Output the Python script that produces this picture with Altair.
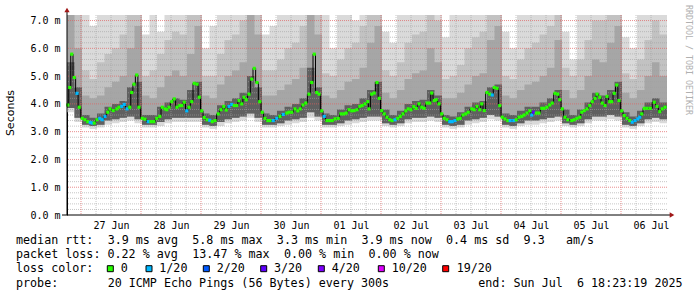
import re
import altair as alt
import pandas as pd

# ---------------- data ----------------
# median rtt (ms), time in hours since 26 Jun 00:00
med_hours = [
    18.7, 19.5, 20.3, 21.3, 22.4, 23.3, 24.5, 25.6, 26.7, 27.7, 28.5, 29.3, 30.4, 31.5, 32.5, 33.6, 34.7, 35.6,
    36.9, 38.3, 39.2, 40.3, 41.3, 42.4, 43.5, 44.3, 45.2, 46.3, 47.2, 48.5, 49.6, 50.9, 52.0, 53.1, 54.3, 55.5,
    56.5, 57.6,
    58.3, 59.2, 60.3, 61.3, 62.4, 63.5, 64.3, 65.3, 66.3, 67.2, 68.3, 69.3, 70.4, 71.3, 72.3, 73.3, 74.4, 75.5,
    76.5, 77.6, 78.9, 80.0, 81.1, 82.1, 83.2, 84.3, 85.3, 86.3, 87.2, 88.3, 89.2, 90.1, 91.2, 92.3, 93.3, 94.4,
    95.5, 96.5, 97.6, 98.7,
    99.6, 100.9, 102.3, 103.6, 104.9, 106.3, 107.2, 108.3, 109.6, 110.7, 111.7, 112.8, 113.9, 115.2, 116.3,
    117.3, 118.3, 119.2, 120.3, 121.3, 122.4, 123.5, 124.5, 125.6, 126.9, 128.0, 129.1, 130.1, 131.2, 132.3,
    133.3, 134.4, 135.5, 136.5, 137.6, 138.7,
    139.2, 140.3, 141.3, 142.4, 143.3, 144.3, 145.3, 146.4, 147.5, 148.5, 149.6, 150.7, 151.7, 152.8, 153.9,
    154.9, 156.0, 157.1, 158.1, 159.2, 160.3, 161.3, 162.4, 163.5, 164.3, 165.3, 166.1, 167.2, 168.3, 169.3,
    170.4, 171.5, 172.5, 173.6, 174.7, 175.7, 176.8, 177.9, 178.9,
    180.3, 181.3, 182.4, 183.5, 184.3, 185.3, 186.4, 187.5, 188.5, 189.3, 190.4, 191.5, 192.5, 193.6, 194.7,
    195.7, 197.1, 198.1, 199.2, 200.3, 201.3, 202.4, 203.5, 204.3, 205.1, 206.1, 207.2, 208.3, 209.3, 210.4,
    211.5, 212.5, 213.6, 214.7, 215.5, 216.5, 217.6, 218.7,
    220.3, 221.3, 222.4, 223.5, 224.3, 225.3, 226.4, 227.5, 228.5, 229.6, 230.4, 231.5, 232.5, 233.6, 234.4,
    235.5, 236.3, 237.3, 238.3, 239.2, 240.3, 241.3, 242.4, 243.5, 244.5, 245.6, 246.7, 247.5, 248.3, 249.3,
    250.4, 251.7, 253.3, 254.4, 255.5, 256.5, 257.6,
]
med_ms = [
    3.96, 4.59, 5.79, 4.95, 4.38, 3.88, 3.48, 3.43, 3.36, 3.33, 3.31, 3.31, 3.43, 3.48, 3.43, 3.55, 3.70, 3.82,
    3.76, 3.82, 3.88, 3.91, 3.98, 3.82, 3.88, 4.41, 4.71, 5.04, 3.88, 3.48, 3.45, 3.36, 3.36, 3.36, 3.48, 3.55,
    3.88, 3.82,
    3.79, 3.88, 4.08, 4.18, 3.88, 3.94, 3.94, 4.06, 3.75, 3.88, 4.08, 4.74, 4.71, 4.24, 3.75, 3.51, 3.43, 3.41,
    3.36, 3.40, 3.64, 3.79, 3.91, 3.78, 3.91, 3.98, 3.94, 3.94, 4.12, 4.00, 4.24, 4.15, 4.35, 4.89, 5.28, 4.77,
    4.08, 3.70, 3.48, 3.40,
    3.40, 3.40, 3.48, 3.55, 3.62, 3.67, 3.70, 3.70, 3.82, 3.75, 3.82, 3.96, 4.03, 4.35, 4.77,
    5.79, 4.41, 4.35, 3.75, 3.55, 3.40, 3.40, 3.40, 3.46, 3.48, 3.64, 3.64, 3.67, 3.79, 3.75,
    3.76, 3.79, 3.91, 3.94, 4.00, 4.08,
    3.82, 4.35, 4.39, 4.77, 4.20, 3.76, 3.64, 3.52, 3.43, 3.40, 3.43, 3.48, 3.55, 3.64, 3.75,
    3.82, 3.79, 3.90, 3.84, 4.00, 3.88, 3.84, 4.03, 4.03, 4.39, 4.12, 4.15, 4.00, 3.64, 3.48,
    3.43, 3.36, 3.36, 3.40, 3.46, 3.48, 3.60, 3.64, 3.70,
    3.82, 3.79, 3.91, 3.79, 4.00, 3.76, 4.41, 4.35, 4.32, 4.59, 4.56, 3.94, 3.52, 3.46, 3.40,
    3.40, 3.40, 3.43, 3.52, 3.55, 3.60, 3.67, 3.75, 3.60, 3.70, 3.67, 3.67, 3.84, 3.84, 3.88,
    3.96, 4.03, 4.38, 4.35, 4.15, 3.82, 3.52, 3.43,
    3.40, 3.43, 3.48, 3.52, 3.70, 3.76, 3.82, 3.94, 4.08, 4.20, 4.35, 4.24, 4.03, 3.94, 4.27,
    4.08, 4.08, 4.38, 4.68, 4.12, 3.75, 3.58, 3.48, 3.40, 3.34, 3.40, 3.46, 3.52, 3.64, 3.84,
    3.84, 3.84, 4.06, 3.91, 3.72, 3.82, 3.88,
]
loss_1of20_hours = [22.4, 27.7, 28.5, 31.5, 32.5, 33.6, 40.3, 41.3, 42.4, 50.9, 66.3, 75.5, 83.2, 84.3,
                    100.9, 102.3, 104.9, 121.3, 149.6, 171.5, 172.5, 173.6, 188.5, 195.7, 197.1, 204.3,
                    244.5, 245.6, 246.7, 247.5]
loss_3of20_hours = [205.1]

loss_names = ["0", "1/20", "2/20", "3/20", "4/20", "10/20", "19/20"]
loss_colors = ["#26ff00", "#00b8ff", "#0059ff", "#5e00ff", "#7e00ff", "#dd00ff", "#ff0000"]

# smoke: 3-hour columns starting 26 Jun 18:24
smoke_start_h = 18.4
smoke_step_h = 3
smoke_bot = [3.7, 3.35, 3.15, 3.1, 3.15, 3.25, 3.3, 3.35, 3.4, 3.3, 3.15, 3.15, 3.2, 3.3, 3.35, 3.35, 3.35, 3.35,
             3.15, 3.1, 3.2, 3.3, 3.35, 3.4, 3.5, 3.35, 3.15, 3.15, 3.2, 3.25, 3.3, 3.35, 3.5, 3.4, 3.15, 3.15,
             3.2, 3.25, 3.3, 3.35, 3.4, 3.4, 3.2, 3.15, 3.2, 3.3, 3.35, 3.35, 3.4, 3.35, 3.15, 3.1, 3.15, 3.25,
             3.3, 3.35, 3.45, 3.4, 3.15, 3.1, 3.2, 3.25, 3.25, 3.3, 3.35, 3.4, 3.2, 3.15, 3.2, 3.3, 3.4, 3.4,
             3.45, 3.4, 3.15, 3.1, 3.2, 3.3, 3.35, 3.3]
smoke_bot2 = [3.85, 3.5, 3.25, 3.2, 3.25, 3.4, 3.45, 3.5, 3.55, 3.45, 3.25, 3.25, 3.35, 3.45, 3.5, 3.5, 3.5, 3.5,
              3.25, 3.2, 3.35, 3.45, 3.5, 3.55, 3.65, 3.5, 3.25, 3.25, 3.3, 3.4, 3.45, 3.5, 3.7, 3.55, 3.25, 3.25,
              3.3, 3.4, 3.45, 3.5, 3.55, 3.55, 3.3, 3.25, 3.3, 3.45, 3.5, 3.5, 3.55, 3.5, 3.25, 3.2, 3.25, 3.4,
              3.45, 3.5, 3.6, 3.55, 3.25, 3.2, 3.3, 3.4, 3.4, 3.45, 3.5, 3.55, 3.3, 3.25, 3.3, 3.45, 3.55, 3.55,
              3.6, 3.55, 3.25, 3.2, 3.3, 3.45, 3.5, 3.45]
smoke_core = [5.5, 4.6, 3.6, 3.5, 3.65, 3.9, 4.0, 4.1, 4.6, 4.8, 3.6, 3.6, 3.9, 4.05, 4.2, 4.15, 4.5, 4.8,
              3.65, 3.6, 3.95, 4.1, 4.2, 4.4, 5.0, 4.6, 3.65, 3.6, 3.75, 3.9, 4.0, 4.2, 5.3, 4.6, 3.65, 3.6,
              3.8, 3.95, 4.0, 4.2, 4.5, 4.8, 3.8, 3.6, 3.75, 4.0, 4.1, 4.15, 4.5, 4.3, 3.6, 3.55, 3.7, 3.9,
              4.05, 4.1, 4.6, 4.7, 3.65, 3.6, 3.75, 3.9, 3.9, 4.05, 4.2, 4.5, 3.8, 3.6, 3.8, 4.05, 4.4, 4.3,
              4.5, 4.8, 3.7, 3.55, 3.75, 4.05, 4.2, 4.05]
smoke_mid = [7.2, 6.0, 4.3, 4.2, 4.3, 4.6, 4.8, 5.0, 6.0, 6.8, 4.3, 4.2, 4.6, 5.0, 5.2, 5.0, 5.8, 6.8,
             4.3, 4.2, 4.7, 5.0, 5.2, 5.5, 7.2, 6.5, 4.3, 4.3, 4.5, 4.7, 4.9, 5.3, 7.2, 6.5, 4.3, 4.2,
             4.5, 4.8, 4.9, 5.3, 6.2, 6.8, 4.4, 4.2, 4.5, 4.9, 5.1, 5.2, 6.0, 5.5, 4.2, 4.2, 4.4, 4.7,
             5.0, 5.1, 6.3, 6.8, 4.3, 4.2, 4.5, 4.7, 4.8, 5.0, 5.3, 6.3, 4.5, 4.2, 4.5, 5.0, 5.6, 5.5,
             6.2, 6.8, 4.4, 4.2, 4.5, 5.0, 5.5, 5.0]
smoke_hi = [7.2, 7.2, 5.2, 4.9, 5.5, 5.8, 6.0, 6.5, 7.2, 7.2, 5.0, 5.2, 5.8, 6.3, 6.6, 6.5, 7.2, 7.2,
            5.0, 5.0, 5.8, 6.3, 6.5, 7.0, 7.2, 7.2, 5.2, 5.2, 5.6, 6.0, 6.2, 6.8, 7.2, 7.2, 5.1, 5.0,
            5.6, 6.0, 6.2, 6.8, 7.2, 7.2, 5.2, 5.0, 5.5, 6.2, 6.5, 6.6, 7.2, 7.0, 4.9, 5.0, 5.4, 6.0,
            6.4, 6.6, 7.2, 7.2, 5.0, 4.9, 5.6, 6.0, 6.2, 6.5, 6.8, 7.2, 5.3, 5.0, 5.6, 6.3, 7.0, 7.0,
            7.2, 7.2, 5.1, 4.9, 5.6, 6.3, 7.0, 6.5]
smoke_top = [7.2, 7.2, 7.2, 6.8, 7.2, 7.2, 7.2, 7.2, 7.2, 7.2, 6.5, 7.2, 6.6, 7.2, 7.2, 7.2, 7.2, 7.2,
             6.0, 6.8, 7.2, 7.2, 7.2, 7.2, 7.2, 7.2, 6.5, 6.8, 7.2, 7.2, 7.2, 7.2, 7.2, 7.2, 7.2, 6.0,
             7.2, 7.2, 7.0, 7.2, 7.2, 7.2, 6.6, 6.2, 7.2, 7.2, 7.2, 7.2, 7.2, 7.2, 6.4, 7.2, 7.2, 7.2,
             7.2, 7.2, 7.2, 7.2, 6.6, 6.0, 7.2, 7.2, 7.2, 7.2, 7.2, 7.2, 6.6, 5.6, 7.2, 7.2, 7.2, 7.2,
             7.2, 7.2, 6.4, 6.0, 7.2, 7.2, 7.2, 7.2]

day_labels = ["27 Jun", "28 Jun", "29 Jun", "30 Jun", "01 Jul", "02 Jul", "03 Jul", "04 Jul", "05 Jul", "06 Jul"]
day_label_hours = [36, 60, 84, 108, 132, 156, 180, 204, 228, 252]
y_tick_values = [0, 1, 2, 3, 4, 5, 6, 7]
grid_major_hours = [24, 48, 72, 96, 120, 144, 168, 192, 216, 240]
grid_minor_hours = [h for h in range(24, 258, 6) if h % 24]
grid_major_ms = [1, 2, 3, 4, 5, 6, 7]
grid_minor_ms = [round(0.2 * i, 1) for i in range(1, 36) if i % 5]

legend_line1 = "median rtt:  3.9 ms avg  5.8 ms max  3.3 ms min  3.9 ms now  0.4 ms sd  9.3   am/s"
legend_line2 = "packet loss: 0.22 % avg  13.47 % max  0.00 % min  0.00 % now"
legend_line3 = "loss color:"
legend_line4 = "probe:       20 ICMP Echo Pings (56 Bytes) every 300s"
end_text = "end: Sun Jul  6 18:23:19 2025"

# ---------------- build tables ----------------
def loss_of(h):
    if h in loss_3of20_hours:
        return "3/20"
    if h in loss_1of20_hours:
        return "1/20"
    return "0"

med = pd.DataFrame({"h": med_hours, "ms": med_ms})
med["loss"] = [loss_of(h) for h in med_hours]

n = len(smoke_bot)
idx = list(range(n)) + [n - 1]
smoke = pd.DataFrame({
    "h": [smoke_start_h + smoke_step_h * i for i in range(n + 1)],
    "bot": [smoke_bot[i] for i in idx],
    "bot2": [smoke_bot2[i] for i in idx],
    "core": [smoke_core[i] for i in idx],
    "mid": [smoke_mid[i] for i in idx],
    "hi": [smoke_hi[i] for i in idx],
    "top": [smoke_top[i] for i in idx],
})

MONO = "DejaVu Sans Mono"
W, H = 600, 200
xs = alt.Scale(domain=[18.4, 258.4], nice=False, zero=False)
ys = alt.Scale(domain=[0, 7.2], nice=False, zero=True)

label_expr = "[" + ",".join("'%s'" % d for d in day_labels) + "][round((datum.value-36)/24)]"

def smoke_layer(lo, hi_, color, with_axes=False):
    if with_axes:
        xa = alt.Axis(values=day_label_hours, labelExpr=label_expr, ticks=False, domain=False, grid=False,
                      title=None, labelFont=MONO, labelFontSize=10, labelColor="black",
                      labelBaseline="alphabetic", labelPadding=13)
        ya = alt.Axis(values=y_tick_values, labelExpr="format(datum.value, '.1f') + ' m'", ticks=False,
                      domain=True, domainColor="black", grid=False, title=None, labelFont=MONO,
                      labelFontSize=10, labelColor="black", labelPadding=7)
    else:
        xa = None
        ya = None
    return alt.Chart(smoke).mark_area(interpolate="step-after", color=color, clip=True).encode(
        x=alt.X("h:Q", scale=xs, axis=xa),
        y=alt.Y(hi_ + ":Q", scale=ys, axis=ya),
        y2=alt.Y2(lo + ":Q"),
    )

layers = [
    smoke_layer("bot", "top", "#dadada", True),
    smoke_layer("bot2", "hi", "#c2c2c2"),
    smoke_layer("bot2", "mid", "#a6a6a6"),
    smoke_layer("bot2", "core", "#606060"),
]

# grid
layers.append(alt.Chart(pd.DataFrame({"h": grid_minor_hours})).mark_rule(
    color="#a0a0a0", strokeDash=[1, 1], strokeWidth=1, opacity=0.6).encode(x=alt.X("h:Q", scale=xs, axis=None)))
layers.append(alt.Chart(pd.DataFrame({"ms": grid_minor_ms})).mark_rule(
    color="#a0a0a0", strokeDash=[1, 1], strokeWidth=1, opacity=0.6).encode(y=alt.Y("ms:Q", scale=ys, axis=None)))
layers.append(alt.Chart(pd.DataFrame({"h": grid_major_hours})).mark_rule(
    color="#e06060", strokeDash=[1, 1], strokeWidth=1, opacity=0.7).encode(x=alt.X("h:Q", scale=xs, axis=None)))
layers.append(alt.Chart(pd.DataFrame({"ms": grid_major_ms})).mark_rule(
    color="#e06060", strokeDash=[1, 1], strokeWidth=1, opacity=0.7).encode(y=alt.Y("ms:Q", scale=ys, axis=None)))

# median
layers.append(alt.Chart(med).mark_line(interpolate="step", color="black", strokeWidth=1).encode(
    x=alt.X("h:Q", scale=xs, axis=None), y=alt.Y("ms:Q", scale=ys, axis=None)))
layers.append(alt.Chart(med).mark_square(size=10, opacity=1).encode(
    x=alt.X("h:Q", scale=xs, axis=None), y=alt.Y("ms:Q", scale=ys, axis=None),
    color=alt.Color("loss:N", scale=alt.Scale(domain=loss_names, range=loss_colors), legend=None)))

ONE = alt.Data(values=[{}])

def deco_rule(**enc):
    return alt.Chart(ONE).mark_rule(color="black", strokeWidth=1).encode(**{k: alt.value(v) for k, v in enc.items()})

def label(s, x, y, size=11.7, font=MONO, color="black", angle=0, align="left", baseline="alphabetic"):
    return alt.Chart(ONE).mark_text(text=s, font=font, fontSize=size, color=color, angle=angle,
                                    align=align, baseline=baseline).encode(x=alt.value(x), y=alt.value(y))

# axes lines + arrows
layers.append(deco_rule(x=-5, x2=603, y=H))
layers.append(deco_rule(x=0, y=H, y2=-3))
layers.append(alt.Chart(ONE).mark_point(shape="triangle-right", filled=True, size=28, color="#a01818", opacity=1)
              .encode(x=alt.value(605), y=alt.value(H)))
layers.append(alt.Chart(ONE).mark_point(shape="triangle-up", filled=True, size=28, color="#a01818", opacity=1)
              .encode(x=alt.value(0), y=alt.value(-5)))

# titles
layers.append(label("Seconds", -56, 98, size=11, font="DejaVu Sans", angle=270, align="center", baseline="middle"))
layers.append(label("RRDTOOL / TOBI OETIKER", 621, 45, size=8.3, color="#b0b0b0", angle=90,
                    align="center", baseline="middle"))

# legend text
X0 = 16 - 67
ADV = 7.05
BASE = [229, 243.2, 257.4, 271.6]

def line_marks(s, y, x0=X0):
    return [label(m.group(), x0 + ADV * m.start(), y) for m in re.finditer(r"\S+(?: \S+)*", s)]

layers += line_marks(legend_line1, BASE[0])
layers += line_marks(legend_line2, BASE[1])
layers += line_marks(legend_line3, BASE[2])
layers += line_marks(legend_line4, BASE[3])
layers += line_marks(end_text, BASE[3], x0=478.3 - 67)

box_x = [107.3, 146, 203.3, 260.7, 318.3, 378.3, 442.7]
txt_x = [120.7, 159.3, 216.7, 274, 331.7, 391.7, 456.7]
for name, col, bx, tx in zip(loss_names, loss_colors, box_x, txt_x):
    layers.append(alt.Chart(ONE).mark_square(size=36, color=col, opacity=1, stroke="black", strokeWidth=1)
                  .encode(x=alt.value(bx - 67 + 3), y=alt.value(253.7)))
    layers.append(label(name, tx - 67, BASE[2]))

chart = alt.layer(*layers).resolve_axis(x="independent", y="independent").properties(
    width=W, height=H,
    padding={"left": 67, "top": 15, "right": 30, "bottom": 82},
    autosize=alt.AutoSizeParams(type="none"),
    background="white",
).configure_view(stroke=None)

chart.save("out.html", embed_options={"renderer": "svg", "actions": False})
